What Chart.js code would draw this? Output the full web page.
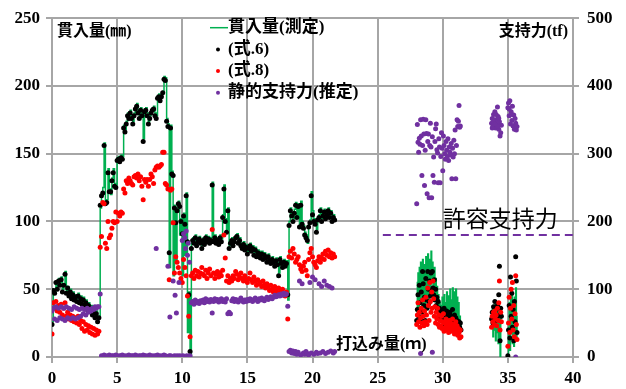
<!DOCTYPE html>
<html>
<head>
<meta charset="utf-8">
<script src="https://cdn.jsdelivr.net/npm/chart.js@4/dist/chart.umd.min.js"></script>
<style>
  html, body { margin: 0; padding: 0; background: #fff; }
  #wrap { width: 626px; height: 389px; }
</style>
</head>
<body>
<div id="wrap"><canvas id="c" width="626" height="389"></canvas></div>
<script>
// Pile driving record: penetration per blow vs. driven depth, and estimated static capacity.

// Driven depth (m) for the penetration series. Non-driven stretches carry a single null row.
const depth = [
  0.0,0.1,0.2,0.3,0.4,0.5,0.6,0.7,0.8,0.9,1.0,1.1,1.2,1.3,1.4,1.5,1.6,1.7,1.8,1.9,
  2.0,2.1,2.2,2.3,2.4,2.5,2.6,2.7,2.8,2.9,3.0,3.1,3.2,3.3,3.4,3.5,3.6,
  3.7,3.8,3.9,4.0,4.1,4.2,4.3,4.4,4.5,4.6, 4.7,4.8,4.9,5.0,5.1,5.2,5.3,5.4,5.5,5.6,
  5.7,5.8,5.9,6.0,6.1,6.2,6.3,6.4,6.5,6.6, 6.7,6.8,6.9,7.0,7.1,7.2,7.3,7.4,7.5,7.6,
  7.7,7.8,7.9,8.0,8.1,8.2,8.3,8.4,8.5,8.6, 8.7,8.8,8.9,9.0,9.1,9.2,9.3,9.4,9.5,9.6,
  9.7,9.8,9.9,10.0,10.1,10.2,10.3,10.4,10.5,10.6,
  10.7,10.8,10.9,11.0,11.1,11.2,11.3,11.4,11.5,11.6, 11.7,11.8,11.9,12.0,12.1,12.2,12.3,12.4,12.5,12.6,
  12.7,12.8,12.9,13.0,13.1,13.2,13.3,13.4,13.5,13.6, 13.7,13.8,13.9,14.0,14.1,14.2,14.3,14.4,14.5,14.6,
  14.7,14.8,14.9,15.0,15.1,15.2,15.3,15.4,15.5,15.6, 15.7,15.8,15.9,16.0,16.1,16.2,16.3,16.4,16.5,16.6,
  16.7,16.8,16.9,17.0,17.1,17.2,17.3,17.4,17.5,17.6, 17.7,17.8,17.9,18.0,18.1,
  18.2,18.3,18.4,18.5,18.6,18.7,18.8,18.9,19.0,19.1, 19.2,19.3,19.4,19.5,19.6,19.7,19.8,19.9,20.0,20.1,
  20.2,20.3,20.4,20.5,20.6,20.7,20.8,20.9,21.0,21.1, 21.2,21.3,21.4,21.5,21.6,21.7,
  25.0,
  28.00,28.05,28.10,28.15,28.20,28.25,28.30,28.35,28.40,28.45, 28.50,28.55,28.60,28.65,28.70,28.75,28.80,28.85,28.90,28.95,
  29.00,29.05,29.10,29.15,29.20,29.25,29.30,29.35,29.40,29.45, 29.50,29.55,29.60,29.65,29.70,29.75,29.80,29.85,29.90,29.95,
  30.00,30.05,30.10,30.15,30.20,30.25,30.30,30.35,30.40,30.45, 30.50,30.55,30.60,30.65,30.70,30.75,30.80,30.85,30.90,30.95,
  31.00,31.05,31.10,31.15,31.20,31.25,31.30,31.35,31.40,
  32.5,
  33.75,33.80,33.85,33.90,33.95,34.00,34.05,34.10,34.15,34.20,34.25,34.30,34.35,34.40,34.45,34.50,
  34.75,
  35.00,35.05,35.10,35.15,35.20,35.25,35.30,35.35,35.40,35.45,35.50,35.55,35.60,35.65,35.70
];

// 貫入量(測定) — measured penetration (mm)
const measured = [
  26,50,48,56,52,58,55,59,50,54,63,48,52,46,50,45,48,44,46,43,
  47,42,45,41,44,38,42,37,40,36,38,33,36,31,34,28,30,
  110,120,125,158,115,116,139,124,120,132, 139,128,127,147,148,146,149,148,171,168,
  174,180,178,182,178,174,180,185,187,182, 178,184,180,161,183,184,180,174,178,182,
  184,185,180,178,193,194,191,194,196,207, 206,176,172,66,171,137,60,112,70,110,
  115,90,102,60,106,75,121,18,48,0,
  84,88,86,90,84,87,89,86,82,88, 85,90,87,89,86,88,129,87,90,86,
  88,85,90,87,105,127,102,94,110,82, 86,88,84,87,90,91,86,88,84,82,
  85,81,83,78,82,84,80,82,77,81, 76,79,78,75,78,74,77,75,72,76,
  73,71,74,72,69,73,70,62,74,71, 68,72,69,71,42,
  100,110,106,102,109,114,104,113,98,115, 100,97,92,90,84,98,101,122,108,102,
  100,94,103,105,110,102,106,109,104,107, 110,105,108,102,105,103,
  null,
  30,55,62,35,66,42,70,50,38,72, 58,40,68,30,74,52,44,76,55,42,
  72,50,78,56,70,52,60,66,45,58, 40,52,35,46,30,40,28,38,26,44,
  30,24,46,28,40,25,48,30,26,45, 28,50,24,42,27,51,30,23,48,26,
  50,22,44,25,40,24,30,22,25,
  null,
  25,35,15,38,20,39,12,36,18,40,10,38,22,0,30,28,
  null,
  0,22,40,5,45,20,48,10,38,8,44,15,51,30,14
];

// (式.6) — penetration by equation 6 (mm)
const eq6 = [
  24,49,47,55,50,56,53,57,48,53,61,47,51,45,48,43,46,42,44,41,
  45,40,43,39,42,37,40,35,38,34,36,31,34,29,32,26,29,
  112,119,121,156,113,114,136,122,122,130, 136,126,125,145,146,144,147,146,169,166,
  172,178,176,180,176,172,178,183,185,180, 176,182,178,159,181,182,178,172,176,180,
  182,183,178,176,191,192,189,192,195,205, 204,174,170,77,169,135,134,110,99,108,
  113,111,100,91,104,98,119,85,46,4,
  80,86,84,88,82,85,87,84,80,86, 83,88,85,87,84,86,127,85,88,84,
  86,83,88,85,103,124,100,92,108,80, 84,86,82,85,88,89,84,86,82,80,
  83,79,81,76,80,82,78,80,75,79, 74,77,76,73,76,72,75,73,70,74,
  71,69,72,70,67,71,68,60,72,69, 66,70,67,69,46,
  97,108,104,100,106,112,103,111,96,112, 98,95,90,88,86,96,99,119,105,100,
  98,92,101,103,108,100,104,107,102,105, 108,103,106,100,103,101,
  null,
  27,35,46,30,53,40,28,48,33,63, 54,38,44,27,58,42,36,63,50,40,
  56,45,62,48,63,51,46,57,42,50, 38,44,35,41,30,36,28,33,27,34,
  30,22,36,28,32,25,34,29,24,31, 27,33,23,30,26,35,28,22,31,25,
  29,21,27,24,19,26,22,25,20,
  null,
  28,33,25,37,30,41,27,35,29,38,31,46,67,12,36,30,
  null,
  1,20,38,14,59,30,47,22,35,12,41,26,74,56,18
];

// (式.8) — penetration by equation 8 (mm)
const eq8 = [
  17,40,36,41,34,38,33,39,31,36,40,30,33,28,31,27,30,26,29,25,
  30,24,27,21,26,19,24,20,23,18,22,17,21,16,20,17,19,
  81,89,114,113,84,80,100,88,90,95, 100,99,107,100,106,104,107,106,124,121,
  130,128,132,130,128,127,133,134,132,135, 130,133,126,116,131,129,131,126,131,135,
  133,128,138,140,141,140,141,142,151,151, 128,127,124,57,123,124,99,62,74,70,
  66,62,58,55,72,66,60,45,30,15,
  60,62,58,64,60,63,59,62,66,61, 60,64,58,62,65,60,94,62,58,61,
  63,59,62,60,64,90,73,56,60,55, 58,56,60,58,63,61,57,59,62,58,
  56,60,57,55,58,62,57,55,59,56, 53,57,54,55,52,56,53,51,54,52,
  49,53,50,48,52,49,47,51,48,46, 50,47,45,48,28,
  74,78,73,80,76,70,72,74,68,65, 63,67,70,64,60,72,77,80,74,70,
  68,66,71,74,70,73,76,72,78,75, 79,74,77,73,76,74,
  null,
  24,31,40,26,33,22,29,36,25,42, 30,23,34,26,44,31,24,51,38,27,
  55,41,33,48,36,56,43,30,37,25, 33,28,36,24,31,22,27,23,30,21,
  26,32,19,25,22,28,20,26,23,18, 27,21,25,19,23,28,20,24,17,22,
  26,19,23,16,21,18,14,20,15,
  null,
  22,30,26,33,24,34,28,31,23,36,27,40,56,20,33,26,
  null,
  8,25,44,18,36,50,28,55,20,38,15,32,60,24,13
];

// 静的支持力(推定) — estimated static capacity (tf): depth (m) and value
const capDepth = [
  0.0,0.1,0.2,0.3,0.4,0.5,0.6,0.7,0.8,0.9,1.0,1.1,1.2,1.3,1.4,1.5,1.6,1.7,1.8,1.9,
  2.0,2.1,2.2,2.3,2.4,2.5,2.6,2.7,2.8,2.9,3.0,3.1,3.2,3.3,3.4,3.5,3.6,
  3.7,
  3.8,3.9,4.0,4.1,4.2,4.3,4.4,4.5,4.6,4.7, 4.8,4.9,5.0,5.1,5.2,5.3,5.4,5.5,5.6,5.7,
  5.8,5.9,6.0,6.1,6.2,6.3,6.4,6.5,6.6,6.7, 6.8,6.9,7.0,7.1,7.2,7.3,7.4,7.5,7.6,7.7,
  7.8,7.9,8.0,8.1,8.2,8.3,8.4,8.5,8.6,8.7, 8.8,
  8.0,8.9,9.0,9.05,9.1,9.2,9.3,9.4,9.45,9.5,9.55,9.6,9.7,9.75,9.8,9.9,
  10.0,10.05,10.1,10.15,10.2,10.25,10.3,10.35,10.4,10.45,10.5,10.55,10.6,
  10.7,10.8,10.9,11.0,11.1,11.2,11.3,11.4,11.5,11.6, 11.7,11.8,11.9,12.0,12.1,12.2,12.3,12.4,12.5,12.6,
  12.7,12.8,12.9,13.0,13.1,13.2,13.3,13.4,13.5,13.6, 13.7,13.8,13.9,14.0,14.1,14.2,14.3,14.4,14.5,14.6,
  14.7,14.8,14.9,15.0,15.1,15.2,15.3,15.4,15.5,15.6, 15.7,15.8,15.9,16.0,16.1,16.2,16.3,16.4,16.5,16.6,
  16.7,16.8,16.9,17.0,17.1,17.2,17.3,17.4,17.5,17.6, 17.7,17.8,17.9,18.0,18.1,
  18.2,18.3,18.4,18.5,18.6,18.7,18.8,18.9,19.0,19.1, 19.2,19.3,19.4,19.5,19.6,19.7,19.8,19.9,20.0,20.1,
  20.2,20.3,20.4,20.5,20.6,20.7,20.8,20.9,21.0,21.1, 21.2,21.3,21.4,21.5,21.6,21.7,
  28.00,28.05,28.10,28.15,28.20,28.25,28.30,28.35,28.40,28.45, 28.50,28.55,28.60,28.65,28.70,28.75,28.80,28.85,28.90,28.95,
  29.00,29.05,29.10,29.15,29.20,29.25,29.30,29.35,29.40,29.45, 29.50,29.55,29.60,29.65,29.70,29.75,29.80,29.85,29.90,29.95,
  30.00,30.05,30.10,30.15,30.20,30.25,30.30,30.35,30.40,30.45, 30.50,30.55,30.60,30.65,30.70,30.75,30.80,30.85,30.90,30.95,
  31.00,31.05,31.10,31.15,31.20,31.25,31.30,31.35, 28.30,29.20,
  33.75,33.80,33.85,33.90,33.95,34.00,34.05,34.10,34.15,34.20,34.25,34.30,34.35,34.40,34.45,34.50,
  33.80,33.90,34.00,34.10,34.20,34.30,
  35.00,35.05,35.10,35.15,35.20,35.25,35.30,35.35,35.40,35.45,35.50,35.55,35.60,35.65,35.70,
  35.10,35.30,35.60
];
const capacity = [
  68,72,56,74,54,72,58,74,56,72,54,74,58,72,56,70,58,74,56,72,
  58,70,60,72,64,70,62,72,66,70,68,72,70,74,72,74,74,
  93,
  2,1,3,2,1,2,3,1,2,2, 1,3,2,1,2,2,3,1,2,1,
  2,3,1,2,2,1,3,2,1,2, 2,1,3,2,2,1,2,3,1,2,
  1,2,2,3,1,2,1,2,3,2, 1,
  160,134,2,59,2,1,112,2,91,1,65,2,1,110,2,1,
  172,2,182,1,176,160,186,2,150,168,1,140,2,
  80,82,78,84,80,82,79,83,81,84, 80,86,82,84,81,85,65,82,86,83,
  85,81,84,86,82,84,81,86,64,66, 64,83,86,82,85,84,81,84,87,83,
  81,84,82,85,83,86,84,82,85,87, 84,82,86,84,87,85,83,86,88,85,
  87,89,86,88,91,89,90,92,90,93, 91,94,92,93,75,
  8,10,6,9,5,8,4,7,112,3, 108,6,4,8,5,3,110,6,118,4,
  114,7,5,108,6,104,8,112,5,106, 7,104,9,102,6,8,
  226,343,317,302,323,314,350,326,268,312, 351,329,253,305,350,330,241,318,329,235,
  312,345,310,235,325,268,295,258,318,337, 344,306,301,257,322,310,257,296,331,308,
  275,326,312,300,292,318,305,296,322,290, 310,302,298,315,263,308,295,320,300,335,
  263,312,350,340,348,371,339,341, 5,7,
  345,352,340,358,346,362,338,350,343,369,355,336,347,326,331,342,
  338,350,344,358,340,352,
  368,375,356,378,344,362,349,370,341,357,336,352,345,335,340,
  366,358,0
];

// 許容支持力 — allowable capacity line (tf) and the depth range it spans (m)
const allowableLevel = [180, 180];
const allowableDepth = [25.4, 40];

// Axis ticks
const depthTicks = [0, 5, 10, 15, 20, 25, 30, 35, 40];
const penetrationTicks = [0, 50, 100, 150, 200, 250];
const capacityTicks = [0, 100, 200, 300, 400, 500];

const GREEN = '#00B050', BLACK = '#000000', RED = '#FF0000', PURPLE = '#7030A0';
const GRID = '#A6A6A6';
const JP = '"Liberation Serif", "Noto Sans CJK JP", serif';
const NUM = '"Liberation Serif", "Times New Roman", serif';

const pts = (xs, ys) => xs.map((x, i) => ({ x, y: ys[i] }));

const legendItems = [
  { text: '貫入量(測定)', color: GREEN, kind: 'line' },
  { text: '(式.6)', color: BLACK, kind: 'dot' },
  { text: '(式.8)', color: RED, kind: 'dot' },
  { text: '静的支持力(推定)', color: PURPLE, kind: 'dot' }
];

// Axis titles, allowable-capacity caption and the in-plot legend
const labelsPlugin = {
  id: 'labels',
  afterDatasetsDraw(chart) {
    const { ctx, chartArea, scales } = chart;
    ctx.save();
    ctx.fillStyle = '#000';
    ctx.textBaseline = 'middle';

    ctx.font = 'bold 16px ' + JP;
    ctx.textAlign = 'left';
    ctx.fillText('貫入量(㎜)', chartArea.left + 5, chartArea.top + 14);
    ctx.textAlign = 'right';
    ctx.fillText('支持力(tf)', chartArea.right - 5, chartArea.top + 14);
    ctx.textAlign = 'left';
    ctx.fillText('打込み量(ｍ)', scales.x.getPixelForValue(21.8), chartArea.bottom - 12);

    ctx.font = '23px "Noto Sans CJK JP", sans-serif';
    ctx.fillText('許容支持力', scales.x.getPixelForValue(30.0), scales.y2.getPixelForValue(allowableLevel[0]) - 17);

    // legend
    const lx = 210, ly = chartArea.top + 9.5, step = 21.7;
    ctx.font = 'bold 17px ' + JP;
    legendItems.forEach((it, i) => {
      const y = ly + i * step;
      if (it.kind === 'line') {
        ctx.strokeStyle = it.color;
        ctx.lineWidth = 1.5;
        ctx.beginPath();
        ctx.moveTo(lx, y);
        ctx.lineTo(lx + 18, y);
        ctx.stroke();
      } else {
        ctx.fillStyle = it.color;
        ctx.beginPath();
        ctx.arc(lx + 8, y, 2, 0, Math.PI * 2);
        ctx.fill();
      }
      ctx.fillStyle = '#000';
      ctx.fillText(it.text, lx + 18, y);
    });
    ctx.restore();
  }
};

const tickFont = { family: NUM, size: 17, weight: 'bold' };

new Chart(document.getElementById('c'), {
  type: 'scatter',
  data: {
    datasets: [
      {
        label: '静的支持力(推定)', yAxisID: 'y2', order: 0,
        data: pts(capDepth, capacity),
        pointRadius: 2.5, pointBorderWidth: 0, pointBackgroundColor: PURPLE, pointHoverRadius: 2.5
      },
      {
        label: '(式.8)', yAxisID: 'y', order: 1,
        data: pts(depth, eq8),
        pointRadius: 2.5, pointBorderWidth: 0, pointBackgroundColor: RED, pointHoverRadius: 2.5
      },
      {
        label: '(式.6)', yAxisID: 'y', order: 2,
        data: pts(depth, eq6),
        pointRadius: 2.5, pointBorderWidth: 0, pointBackgroundColor: BLACK, pointHoverRadius: 2.5
      },
      {
        label: '貫入量(測定)', type: 'line', yAxisID: 'y', order: 3,
        data: pts(depth, measured),
        showLine: true, stepped: true, spanGaps: false,
        borderColor: GREEN, borderWidth: 1.5, pointRadius: 0, fill: false
      },
      {
        label: '許容支持力', type: 'line', yAxisID: 'y2', order: 4,
        data: pts(allowableDepth, allowableLevel),
        showLine: true, borderColor: PURPLE, borderWidth: 2, borderDash: [8, 5],
        pointRadius: 0, fill: false
      }
    ]
  },
  options: {
    responsive: false,
    animation: false,
    devicePixelRatio: 1,
    layout: { padding: { top: 14, left: 0, right: 0, bottom: 0 } },
    plugins: { legend: { display: false }, tooltip: { enabled: false } },
    scales: {
      x: {
        type: 'linear', min: 0, max: 40,
        afterBuildTicks: s => { s.ticks = depthTicks.map(v => ({ value: v })); },
        ticks: { color: '#000', font: tickFont, padding: 5, autoSkip: false, maxRotation: 0 },
        grid: { color: GRID, lineWidth: 2, tickLength: 6 },
        border: { color: GRID, width: 2 },
        afterFit: s => { s.height = 32; }
      },
      y: {
        type: 'linear', position: 'left', min: 0, max: 250,
        afterBuildTicks: s => { s.ticks = penetrationTicks.map(v => ({ value: v })); },
        ticks: { color: '#000', font: tickFont, padding: 6 },
        grid: { color: GRID, lineWidth: 2, tickLength: 6 },
        border: { color: GRID, width: 2 },
        afterFit: s => { s.width = 52; }
      },
      y2: {
        type: 'linear', position: 'right', min: 0, max: 500,
        afterBuildTicks: s => { s.ticks = capacityTicks.map(v => ({ value: v })); },
        ticks: { color: '#000', font: tickFont, padding: 8 },
        grid: { color: GRID, lineWidth: 2, tickLength: 6, drawOnChartArea: false },
        border: { color: GRID, width: 2 },
        afterFit: s => { s.width = 53; }
      }
    }
  },
  plugins: [labelsPlugin]
});
</script>
</body>
</html>
